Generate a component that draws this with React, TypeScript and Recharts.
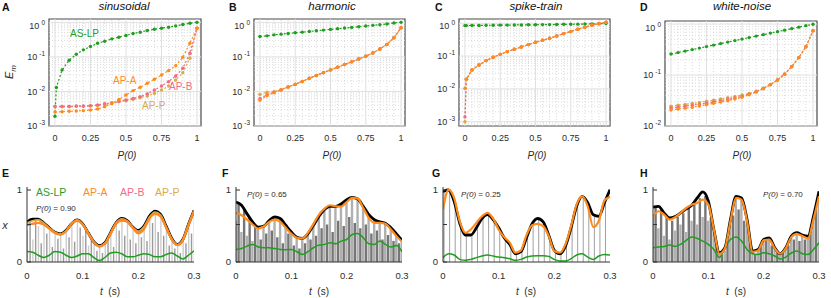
import React from "react";
import {
  ComposedChart,
  Line,
  Bar,
  Cell,
  XAxis,
  YAxis,
  ReferenceLine,
  ReferenceArea,
} from "recharts";

const FONT = '"Liberation Sans", Arial, Helvetica, sans-serif';
const INK = "#2b2b2b";
const GREEN = "#1f9e1f";
const ORANGE = "#ff8c1a";
const PINK = "#f26a85";
const GOLD = "#d8ab4a";

// ---------- top row: E_m against P(0) ----------
const pGrid = [0, 0.05, 0.1, 0.15, 0.2, 0.25, 0.3, 0.35, 0.4, 0.45, 0.5, 0.55, 0.6, 0.65, 0.7, 0.75, 0.8, 0.85, 0.9, 0.95, 1];
const pGridFine = [0, 0.01, 0.05, 0.1, 0.15, 0.2, 0.25, 0.3, 0.35, 0.4, 0.45, 0.5, 0.55, 0.6, 0.65, 0.7, 0.75, 0.8, 0.85, 0.9, 0.95, 1];

// sinusoidal
const sinLP = [0.0019, 0.013, 0.042, 0.08, 0.119, 0.16, 0.2, 0.249, 0.284, 0.333, 0.372, 0.415, 0.474, 0.519, 0.58, 0.634, 0.678, 0.724, 0.79, 0.865, 0.946, 1.0];
const sinA = [0.00255, 0.0026, 0.00266, 0.00272, 0.00278, 0.0029, 0.0031, 0.0036, 0.0045, 0.0059, 0.0079, 0.0106, 0.0132, 0.0173, 0.0225, 0.03, 0.04, 0.056, 0.098, 0.249, 0.678];
const sinB = [0.0037, 0.0037, 0.0037, 0.0038, 0.0038, 0.0039, 0.0041, 0.0044, 0.0047, 0.0052, 0.0057, 0.0063, 0.0071, 0.0085, 0.011, 0.0144, 0.0193, 0.028, 0.047, 0.128, 0.678];
const sinP = [0.0036, 0.0036, 0.0036, 0.0037, 0.0037, 0.0038, 0.0039, 0.0042, 0.0045, 0.005, 0.0054, 0.0059, 0.0066, 0.0074, 0.0089, 0.011, 0.0144, 0.0215, 0.035, 0.091, 0.678];

// harmonic
const harLP = [0.388, 0.406, 0.434, 0.455, 0.476, 0.498, 0.521, 0.545, 0.57, 0.596, 0.624, 0.653, 0.683, 0.715, 0.748, 0.782, 0.818, 0.856, 0.896, 0.958, 1.0];
const harA = [0.0056, 0.0075, 0.0092, 0.011, 0.0135, 0.016, 0.0195, 0.024, 0.029, 0.035, 0.042, 0.05, 0.06, 0.072, 0.087, 0.105, 0.13, 0.17, 0.23, 0.36, 0.7];
const harB = [0.0062, 0.008, 0.0095, 0.0111, 0.0135, 0.016, 0.0195, 0.024, 0.029, 0.035, 0.042, 0.05, 0.06, 0.072, 0.087, 0.105, 0.13, 0.17, 0.23, 0.36, 0.7];
const harP = [0.0082, 0.0095, 0.0099, 0.0113, 0.0136, 0.0161, 0.0196, 0.024, 0.029, 0.035, 0.042, 0.05, 0.06, 0.072, 0.087, 0.105, 0.13, 0.17, 0.23, 0.36, 0.7];

// spike-train
const spkLP = [0.85, 0.85, 0.86, 0.86, 0.87, 0.87, 0.88, 0.88, 0.89, 0.89, 0.9, 0.9, 0.91, 0.91, 0.92, 0.93, 0.93, 0.94, 0.95, 0.96, 0.97, 0.98];
const spkA = [0.0104, 0.0196, 0.0378, 0.0536, 0.0728, 0.092, 0.113, 0.137, 0.161, 0.19, 0.224, 0.264, 0.303, 0.349, 0.411, 0.485, 0.558, 0.658, 0.757, 0.871, 0.98, 1.07];
const spkB = [0.0014, 0.0196, 0.0378, 0.0536, 0.0728, 0.092, 0.113, 0.137, 0.161, 0.19, 0.224, 0.264, 0.303, 0.349, 0.411, 0.485, 0.558, 0.658, 0.757, 0.871, 0.98, 1.07];
const spkP = [0.001, 0.0196, 0.0378, 0.0536, 0.0728, 0.092, 0.113, 0.137, 0.161, 0.19, 0.224, 0.264, 0.303, 0.349, 0.411, 0.485, 0.558, 0.658, 0.757, 0.871, 0.98, 1.07];

// white-noise
const wnLP = [0.258, 0.276, 0.295, 0.316, 0.338, 0.362, 0.387, 0.414, 0.443, 0.474, 0.507, 0.543, 0.581, 0.621, 0.665, 0.711, 0.761, 0.814, 0.871, 0.932, 0.99];
const wnA = [0.0206, 0.0216, 0.0224, 0.0232, 0.0247, 0.0262, 0.0278, 0.0295, 0.0314, 0.0338, 0.0365, 0.041, 0.0464, 0.054, 0.0646, 0.0797, 0.104, 0.146, 0.22, 0.358, 0.74];
const wnB = [0.0225, 0.0235, 0.0245, 0.0255, 0.0268, 0.028, 0.0298, 0.0315, 0.0335, 0.0355, 0.038, 0.042, 0.047, 0.0545, 0.065, 0.08, 0.104, 0.146, 0.22, 0.358, 0.74];
const wnP = [0.0245, 0.0255, 0.0265, 0.0278, 0.029, 0.0305, 0.032, 0.034, 0.036, 0.038, 0.0405, 0.0435, 0.048, 0.055, 0.0655, 0.0805, 0.105, 0.147, 0.221, 0.36, 0.74];

// ---------- bottom row: x(t) ----------
const tGrid = [0, 0.01, 0.02, 0.03, 0.04, 0.05, 0.06, 0.07, 0.08, 0.09, 0.1, 0.11, 0.12, 0.13, 0.14, 0.15, 0.16, 0.17, 0.18, 0.19, 0.2, 0.21, 0.22, 0.23, 0.24, 0.25, 0.26, 0.27, 0.28, 0.29, 0.3];

const sinTarget = [0.535, 0.571, 0.571, 0.522, 0.456, 0.398, 0.376, 0.42, 0.509, 0.562, 0.509, 0.389, 0.27, 0.217, 0.257, 0.389, 0.522, 0.58, 0.553, 0.465, 0.42, 0.478, 0.611, 0.677, 0.633, 0.478, 0.314, 0.235, 0.3, 0.5, 0.686];
const sinOutA = [0.49, 0.51, 0.52, 0.5, 0.447, 0.39, 0.367, 0.41, 0.51, 0.553, 0.5, 0.385, 0.265, 0.208, 0.243, 0.376, 0.51, 0.553, 0.535, 0.456, 0.38, 0.434, 0.58, 0.642, 0.606, 0.456, 0.3, 0.226, 0.292, 0.49, 0.677];
const sinOutB = [0.49, 0.51, 0.52, 0.5, 0.447, 0.39, 0.367, 0.41, 0.51, 0.553, 0.5, 0.385, 0.265, 0.208, 0.243, 0.38, 0.52, 0.565, 0.545, 0.46, 0.39, 0.44, 0.585, 0.645, 0.61, 0.46, 0.3, 0.226, 0.292, 0.49, 0.677];
const sinOutP = [0.52, 0.55, 0.56, 0.52, 0.455, 0.395, 0.37, 0.415, 0.51, 0.56, 0.505, 0.388, 0.268, 0.213, 0.25, 0.385, 0.518, 0.575, 0.548, 0.462, 0.41, 0.47, 0.6, 0.665, 0.625, 0.47, 0.31, 0.232, 0.297, 0.497, 0.683];
const sinOutLP = [0.14, 0.13, 0.09, 0.06, 0.09, 0.14, 0.13, 0.09, 0.06, 0.08, 0.11, 0.11, 0.06, 0.02, 0.06, 0.12, 0.13, 0.11, 0.07, 0.07, 0.09, 0.11, 0.1, 0.07, 0.07, 0.1, 0.12, 0.08, 0.04, 0.09, 0.15];

const harTarget = [0.8, 0.757, 0.642, 0.535, 0.465, 0.478, 0.553, 0.6, 0.58, 0.49, 0.4, 0.33, 0.314, 0.376, 0.49, 0.61, 0.7, 0.743, 0.743, 0.774, 0.832, 0.863, 0.84, 0.743, 0.633, 0.566, 0.535, 0.518, 0.456, 0.376, 0.288];
const harOutA = [0.655, 0.624, 0.566, 0.5, 0.447, 0.473, 0.535, 0.566, 0.535, 0.456, 0.376, 0.323, 0.314, 0.389, 0.509, 0.633, 0.712, 0.757, 0.743, 0.739, 0.8, 0.854, 0.845, 0.72, 0.588, 0.522, 0.522, 0.509, 0.434, 0.345, 0.27];
const harOutLP = [0.168, 0.18, 0.212, 0.235, 0.2, 0.19, 0.19, 0.18, 0.168, 0.164, 0.168, 0.137, 0.1, 0.137, 0.19, 0.226, 0.235, 0.257, 0.243, 0.279, 0.3, 0.367, 0.38, 0.323, 0.243, 0.235, 0.279, 0.235, 0.2, 0.22, 0.137];

const spkTarget = [0.94, 0.96, 0.81, 0.52, 0.36, 0.36, 0.456, 0.58, 0.633, 0.566, 0.456, 0.323, 0.235, 0.11, 0.137, 0.323, 0.509, 0.58, 0.535, 0.358, 0.155, 0.11, 0.212, 0.456, 0.743, 0.876, 0.79, 0.63, 0.61, 0.79, 0.965];
const spkOutA = [0.7, 0.965, 0.854, 0.544, 0.39, 0.434, 0.522, 0.61, 0.655, 0.58, 0.434, 0.332, 0.257, 0.124, 0.155, 0.358, 0.49, 0.509, 0.478, 0.345, 0.146, 0.124, 0.235, 0.478, 0.765, 0.876, 0.743, 0.465, 0.55, 0.82, 0.87];
const spkOutLP = [0.058, 0.11, 0.093, 0.035, 0.022, 0.035, 0.058, 0.08, 0.093, 0.08, 0.066, 0.058, 0.044, 0.022, 0.035, 0.066, 0.08, 0.084, 0.084, 0.075, 0.035, 0.013, 0.013, 0.044, 0.093, 0.11, 0.066, 0.035, 0.08, 0.1, 0.093];

const wnTarget = [0.73, 0.743, 0.655, 0.588, 0.606, 0.655, 0.708, 0.757, 0.854, 0.934, 0.81, 0.43, 0.124, 0.19, 0.566, 0.876, 0.854, 0.566, 0.146, 0.168, 0.3, 0.323, 0.19, 0.11, 0.19, 0.345, 0.39, 0.358, 0.345, 0.61, 0.942];
const wnOutA = [0.61, 0.677, 0.633, 0.566, 0.597, 0.655, 0.72, 0.765, 0.788, 0.832, 0.765, 0.434, 0.11, 0.181, 0.544, 0.854, 0.832, 0.544, 0.137, 0.155, 0.288, 0.3, 0.181, 0.11, 0.181, 0.332, 0.376, 0.345, 0.314, 0.566, 0.876];
const wnOutLP = [0.19, 0.2, 0.208, 0.226, 0.208, 0.235, 0.288, 0.332, 0.314, 0.279, 0.235, 0.168, 0.06, 0.19, 0.3, 0.332, 0.279, 0.168, 0.11, 0.1, 0.124, 0.11, 0.08, 0.04, 0.066, 0.12, 0.146, 0.11, 0.1, 0.168, 0.257];

// input stems (gray)
const stemT = [0, 0.005, 0.01, 0.015, 0.02, 0.025, 0.03, 0.035, 0.04, 0.045, 0.05, 0.055, 0.06, 0.065, 0.07, 0.075, 0.08, 0.085, 0.09, 0.095, 0.1, 0.105, 0.11, 0.115, 0.12, 0.125, 0.13, 0.135, 0.14, 0.145, 0.15, 0.155, 0.16, 0.165, 0.17, 0.175, 0.18, 0.185, 0.19, 0.195, 0.2, 0.205, 0.21, 0.215, 0.22, 0.225, 0.23, 0.235, 0.24, 0.245, 0.25, 0.255, 0.26, 0.265, 0.27, 0.275, 0.28, 0.285, 0.29, 0.295, 0.3];
const sinStems = [0.42, 0.55, 0.3, 0.57, 0.48, 0.25, 0.5, 0.38, 0.44, 0.2, 0.39, 0.31, 0.36, 0.18, 0.41, 0.33, 0.5, 0.27, 0.55, 0.46, 0.35, 0.44, 0.22, 0.3, 0.26, 0.15, 0.21, 0.12, 0.24, 0.3, 0.37, 0.2, 0.5, 0.42, 0.57, 0.35, 0.53, 0.3, 0.44, 0.25, 0.4, 0.33, 0.46, 0.28, 0.6, 0.52, 0.66, 0.4, 0.61, 0.35, 0.46, 0.22, 0.3, 0.18, 0.22, 0.12, 0.29, 0.25, 0.48, 0.38, 0.66];
const harStems = [0.55, 0.78, 0.4, 0.7, 0.35, 0.6, 0.28, 0.5, 0.45, 0.3, 0.47, 0.38, 0.55, 0.42, 0.6, 0.33, 0.58, 0.25, 0.5, 0.38, 0.4, 0.22, 0.33, 0.18, 0.3, 0.25, 0.37, 0.3, 0.48, 0.35, 0.6, 0.45, 0.68, 0.5, 0.72, 0.4, 0.74, 0.55, 0.77, 0.48, 0.82, 0.6, 0.86, 0.52, 0.84, 0.45, 0.74, 0.5, 0.63, 0.38, 0.56, 0.42, 0.53, 0.3, 0.52, 0.36, 0.45, 0.28, 0.37, 0.25, 0.29];
const wnStems = [0.6, 0.75, 0.45, 0.7, 0.35, 0.6, 0.3, 0.55, 0.42, 0.6, 0.5, 0.65, 0.4, 0.72, 0.55, 0.78, 0.5, 0.85, 0.6, 0.88, 0.55, 0.6, 0.4, 0.25, 0.12, 0.1, 0.15, 0.3, 0.5, 0.62, 0.85, 0.7, 0.84, 0.55, 0.5, 0.3, 0.14, 0.1, 0.16, 0.2, 0.28, 0.3, 0.32, 0.22, 0.18, 0.12, 0.1, 0.12, 0.18, 0.22, 0.33, 0.3, 0.38, 0.28, 0.35, 0.3, 0.34, 0.4, 0.58, 0.7, 0.92];
const spkStemT = [0.002, 0.012, 0.022, 0.032, 0.042, 0.052, 0.062, 0.072, 0.082, 0.092, 0.102, 0.112, 0.122, 0.132, 0.142, 0.152, 0.162, 0.172, 0.182, 0.192, 0.202, 0.212, 0.222, 0.232, 0.242, 0.252, 0.262, 0.272, 0.282, 0.292];
const spkStems = [0.94, 0.95, 0.76, 0.48, 0.35, 0.37, 0.47, 0.59, 0.63, 0.55, 0.44, 0.31, 0.21, 0.11, 0.16, 0.36, 0.52, 0.58, 0.52, 0.32, 0.14, 0.11, 0.24, 0.5, 0.76, 0.87, 0.75, 0.62, 0.63, 0.84];

const pTicks = [0, 0.25, 0.5, 0.75, 1];
const pMinor = [0.05, 0.1, 0.15, 0.2, 0.3, 0.35, 0.4, 0.45, 0.55, 0.6, 0.65, 0.7, 0.8, 0.85, 0.9, 0.95];
const X_DOM: [number, number] = [-0.042, 1.028];

const rows = (xs: number[], ys: number[]) => xs.map((x, i) => ({ x, y: ys[i] }));

function decadeMinors(lo: number, hi: number) {
  const out: number[] = [];
  for (let d = lo; d < hi; d *= 10) {
    for (let m = 2; m <= 9; m++) out.push(+(m * d).toPrecision(3));
  }
  return out;
}

type Curve = { name: string; color: string; xs: number[]; ys: number[]; w?: number };
type Box = { x: number; y: number; w: number; h: number };

function LogTick(props: any) {
  const { x, y, payload } = props;
  const e = Math.round(Math.log10(payload.value));
  return (
    <text x={x} y={y} dy="0.36em" textAnchor="end" fontSize={9} fill={INK} fontFamily={FONT}>
      10
      <tspan dx={2} dy={-4} fontSize={6.5}>
        {e}
      </tspan>
    </text>
  );
}

function UnitTick(props: any) {
  const { x, y, payload } = props;
  const v = payload.value;
  return (
    <g>
      <line x1={x + 5} x2={x + 9} y1={y} y2={y} stroke="#333" />
      {v !== 0.5 && (
        <text x={x} y={y} dy="0.36em" textAnchor="end" fontSize={9.5} fill={INK} fontFamily={FONT}>
          {v}
        </text>
      )}
    </g>
  );
}

function TopPanel({ box, yDom, yTicks, curves }: { box: Box; yDom: [number, number]; yTicks: number[]; curves: Curve[] }) {
  const padL = 46;
  const padR = 4;
  const padT = 2;
  const padB = 22;
  const minors = decadeMinors(yTicks[0] / 10, yDom[1]);
  return (
    <div style={{ position: "absolute", left: box.x - padL, top: box.y - padT }}>
      <ComposedChart
        width={box.w + padL + padR}
        height={box.h + padT + padB}
        margin={{ top: padT, right: padR, bottom: 0, left: 0 }}
      >
        <XAxis
          type="number"
          dataKey="x"
          domain={X_DOM}
          allowDataOverflow
          ticks={pTicks}
          height={padB}
          axisLine={false}
          tickLine={false}
          tickSize={0}
          tickMargin={9}
          tick={{ fontSize: 9, fill: INK, fontFamily: FONT }}
        />
        <YAxis
          type="number"
          scale="log"
          domain={yDom}
          allowDataOverflow
          ticks={yTicks}
          width={padL}
          axisLine={false}
          tickLine={false}
          tickSize={0}
          tickMargin={4}
          tick={<LogTick />}
        />
        {pMinor.map((v) => (
          <ReferenceLine key={"mx" + v} x={v} stroke="#d2d2d2" strokeWidth={0.8} strokeDasharray="1 2" />
        ))}
        {minors.map((v) => (
          <ReferenceLine key={"my" + v} y={v} stroke="#d2d2d2" strokeWidth={0.8} strokeDasharray="1 2" />
        ))}
        {pTicks.map((v) => (
          <ReferenceLine key={"gx" + v} x={v} stroke="#e0e0e0" />
        ))}
        {yTicks.map((v) => (
          <ReferenceLine key={"gy" + v} y={v} stroke="#e0e0e0" />
        ))}
        <ReferenceArea
          x1={X_DOM[0]}
          x2={X_DOM[1]}
          y1={yDom[0]}
          y2={yDom[1]}
          fill="none"
          fillOpacity={0}
          stroke="#4a4a4a"
          strokeWidth={1.2}
          ifOverflow="visible"
        />
        {curves.map((c) => (
          <Line
            key={c.name}
            data={rows(c.xs, c.ys)}
            dataKey="y"
            stroke={c.color}
            strokeWidth={1.2}
            strokeDasharray="2 2"
            dot={{ r: 1.7, fill: c.color, stroke: "none", strokeWidth: 0 }}
            activeDot={false}
            isAnimationActive={false}
          />
        ))}
      </ComposedChart>
    </div>
  );
}

function BottomPanel({
  box,
  stemX,
  stemH,
  stemW,
  stemLight,
  stemDark,
  curves,
}: {
  box: Box;
  stemX: number[];
  stemH: number[];
  stemW: number;
  stemLight: string;
  stemDark: string;
  curves: Curve[];
}) {
  const padL = 26;
  const padR = 8;
  const padT = 6;
  const padB = 24;
  const stems = stemX.map((x, i) => ({ x, h: stemH[i] }));
  return (
    <div style={{ position: "absolute", left: box.x - padL, top: box.y - padT }}>
      <ComposedChart
        data={stems}
        width={box.w + padL + padR}
        height={box.h + padT + padB}
        margin={{ top: padT, right: padR, bottom: 0, left: 0 }}
      >
        <XAxis
          type="number"
          dataKey="x"
          domain={[0, 0.3]}
          allowDataOverflow
          ticks={[0, 0.1, 0.2, 0.3]}
          height={padB}
          axisLine={{ stroke: "#333" }}
          tickLine={false}
          tickSize={0}
          tickMargin={10}
          tick={{ fontSize: 9.5, fill: INK, fontFamily: FONT }}
        />
        <YAxis
          type="number"
          domain={[0, 1]}
          allowDataOverflow
          ticks={[0, 0.5, 1]}
          width={padL}
          axisLine={{ stroke: "#333" }}
          tickLine={false}
          tickSize={0}
          tickMargin={5}
          tick={<UnitTick />}
        />
        <Bar dataKey="h" barSize={stemW} isAnimationActive={false}>
          {stems.map((_, i) => (
            <Cell key={i} fill={i % 2 ? stemDark : stemLight} />
          ))}
        </Bar>
        {curves.map((c) => (
          <Line
            key={c.name}
            data={rows(c.xs, c.ys)}
            dataKey="y"
            type="monotone"
            stroke={c.color}
            strokeWidth={c.w ?? 2}
            dot={false}
            activeDot={false}
            isAnimationActive={false}
          />
        ))}
      </ComposedChart>
    </div>
  );
}

function Txt({
  x,
  y,
  children,
  size = 10,
  color = INK,
  italic = false,
  bold = false,
  left = false,
  rotate = 0,
}: {
  x: number;
  y: number;
  children: React.ReactNode;
  size?: number;
  color?: string;
  italic?: boolean;
  bold?: boolean;
  left?: boolean;
  rotate?: number;
}) {
  return (
    <div
      style={{
        position: "absolute",
        left: x,
        top: y,
        transform: `translate(${left ? "0" : "-50%"}, -50%)` + (rotate ? ` rotate(${rotate}deg)` : ""),
        fontSize: size,
        color,
        fontStyle: italic ? "italic" : "normal",
        fontWeight: bold ? 700 : 400,
        whiteSpace: "nowrap",
        lineHeight: 1,
        fontFamily: FONT,
      }}
    >
      {children}
    </div>
  );
}

const P0 = ({ v }: { v: string }) => (
  <>
    <i>P(0)</i> = {v}
  </>
);

export default function App() {
  const topLines = (lp: number[], lpX: number[], a: number[], b: number[], p: number[], apX: number[]): Curve[] => [
    { name: "AS-LP", color: GREEN, xs: lpX, ys: lp },
    { name: "AP-P", color: GOLD, xs: apX, ys: p },
    { name: "AP-B", color: PINK, xs: apX, ys: b },
    { name: "AP-A", color: ORANGE, xs: apX, ys: a },
  ];

  return (
    <div style={{ position: "relative", width: 831, height: 298, background: "#fff", fontFamily: FONT, overflow: "hidden" }}>
      <style>{"body{margin:0}"}</style>

      <TopPanel
        box={{ x: 49, y: 19, w: 152, h: 107 }}
        yDom={[0.001, 1.25]}
        yTicks={[0.001, 0.01, 0.1, 1]}
        curves={topLines(sinLP, pGridFine, sinA, sinB, sinP, pGrid)}
      />
      <TopPanel
        box={{ x: 254, y: 19, w: 151, h: 107 }}
        yDom={[0.001, 1.25]}
        yTicks={[0.001, 0.01, 0.1, 1]}
        curves={topLines(harLP, pGrid, harA, harB, harP, pGrid)}
      />
      <TopPanel
        box={{ x: 459, y: 19, w: 151, h: 107 }}
        yDom={[0.00074, 1.35]}
        yTicks={[0.001, 0.01, 0.1, 1]}
        curves={topLines(spkLP, pGridFine, spkA, spkB, spkP, pGridFine)}
      />
      <TopPanel
        box={{ x: 665, y: 21, w: 152, h: 105 }}
        yDom={[0.01, 1.15]}
        yTicks={[0.01, 0.1, 1]}
        curves={topLines(wnLP, pGrid, wnA, wnB, wnP, pGrid)}
      />

      <BottomPanel
        box={{ x: 27, y: 187, w: 167, h: 75 }}
        stemX={stemT}
        stemH={sinStems}
        stemW={1.4}
        stemLight="#cdcdcd"
        stemDark="#9a9a9a"
        curves={[
          { name: "AS-LP", color: GREEN, xs: tGrid, ys: sinOutLP, w: 1.5 },
          { name: "target", color: "#000", xs: tGrid, ys: sinTarget, w: 2.8 },
          { name: "AP-P", color: GOLD, xs: tGrid, ys: sinOutP, w: 1.8 },
          { name: "AP-B", color: PINK, xs: tGrid, ys: sinOutB, w: 1.8 },
          { name: "AP-A", color: ORANGE, xs: tGrid, ys: sinOutA, w: 2.2 },
        ]}
      />
      <BottomPanel
        box={{ x: 236, y: 187, w: 166, h: 75 }}
        stemX={stemT}
        stemH={harStems}
        stemW={2.4}
        stemLight="#b0b0b0"
        stemDark="#767676"
        curves={[
          { name: "AS-LP", color: GREEN, xs: tGrid, ys: harOutLP, w: 1.5 },
          { name: "target", color: "#000", xs: tGrid, ys: harTarget, w: 2.8 },
          { name: "AP-A", color: ORANGE, xs: tGrid, ys: harOutA, w: 2.2 },
        ]}
      />
      <BottomPanel
        box={{ x: 443, y: 187, w: 167, h: 75 }}
        stemX={spkStemT}
        stemH={spkStems}
        stemW={1.2}
        stemLight="#a0a0a0"
        stemDark="#a0a0a0"
        curves={[
          { name: "AS-LP", color: GREEN, xs: tGrid, ys: spkOutLP, w: 1.5 },
          { name: "target", color: "#000", xs: tGrid, ys: spkTarget, w: 2.8 },
          { name: "AP-A", color: ORANGE, xs: tGrid, ys: spkOutA, w: 2.2 },
        ]}
      />
      <BottomPanel
        box={{ x: 653, y: 187, w: 166, h: 75 }}
        stemX={stemT}
        stemH={wnStems}
        stemW={2.4}
        stemLight="#b0b0b0"
        stemDark="#767676"
        curves={[
          { name: "AS-LP", color: GREEN, xs: tGrid, ys: wnOutLP, w: 1.5 },
          { name: "target", color: "#000", xs: tGrid, ys: wnTarget, w: 2.8 },
          { name: "AP-A", color: ORANGE, xs: tGrid, ys: wnOutA, w: 2.2 },
        ]}
      />

      {/* panel letters */}
      <Txt x={2} y={7} size={10.5} bold left color="#111">A</Txt>
      <Txt x={229} y={7} size={10.5} bold left color="#111">B</Txt>
      <Txt x={435} y={7} size={10.5} bold left color="#111">C</Txt>
      <Txt x={640} y={7} size={10.5} bold left color="#111">D</Txt>
      <Txt x={2} y={173} size={10.5} bold left color="#111">E</Txt>
      <Txt x={222} y={173} size={10.5} bold left color="#111">F</Txt>
      <Txt x={432} y={173} size={10.5} bold left color="#111">G</Txt>
      <Txt x={640} y={173} size={10.5} bold left color="#111">H</Txt>

      {/* titles */}
      <Txt x={124} y={7} size={11.5} italic color="#111">sinusoidal</Txt>
      <Txt x={332} y={7} size={11.5} italic color="#111">harmonic</Txt>
      <Txt x={536} y={7} size={11.5} italic color="#111">spike-train</Txt>
      <Txt x={742} y={7} size={11.5} italic color="#111">white-noise</Txt>

      {/* axis titles */}
      <Txt x={11} y={72} size={11} rotate={-90}>
        <i>E</i>
        <sub style={{ fontSize: 8 }}>
          <i>m</i>
        </sub>
      </Txt>
      <Txt x={127} y={156} size={10} italic>P(0)</Txt>
      <Txt x={332} y={156} size={10} italic>P(0)</Txt>
      <Txt x={537} y={156} size={10} italic>P(0)</Txt>
      <Txt x={742} y={156} size={10} italic>P(0)</Txt>
      <Txt x={5} y={225} size={11} italic>x</Txt>
      {[110, 319, 526, 736].map((cx) => (
        <Txt key={cx} x={cx} y={292} size={10}>
          <i>t</i>&nbsp; (s)
        </Txt>
      ))}

      {/* in-plot labels, panel A */}
      <Txt x={70} y={34} size={10} left color={GREEN}>AS-LP</Txt>
      <Txt x={113} y={81} size={10} left color={ORANGE}>AP-A</Txt>
      <Txt x={169} y={87} size={10} left color={PINK}>AP-B</Txt>
      <Txt x={142} y={106} size={10} left color={GOLD}>AP-P</Txt>

      {/* legend, panel E */}
      <Txt x={36} y={192} size={10.5} left color={GREEN}>AS-LP</Txt>
      <Txt x={83} y={192} size={10.5} left color={ORANGE}>AP-A</Txt>
      <Txt x={120} y={192} size={10.5} left color={PINK}>AP-B</Txt>
      <Txt x={155} y={192} size={10.5} left color={GOLD}>AP-P</Txt>

      {/* P(0) annotations */}
      <Txt x={36} y={209} size={8} left><P0 v="0.90" /></Txt>
      <Txt x={247} y={195} size={8} left><P0 v="0.65" /></Txt>
      <Txt x={461} y={195} size={8} left><P0 v="0.25" /></Txt>
      <Txt x={763} y={195} size={8} left><P0 v="0.70" /></Txt>
    </div>
  );
}
